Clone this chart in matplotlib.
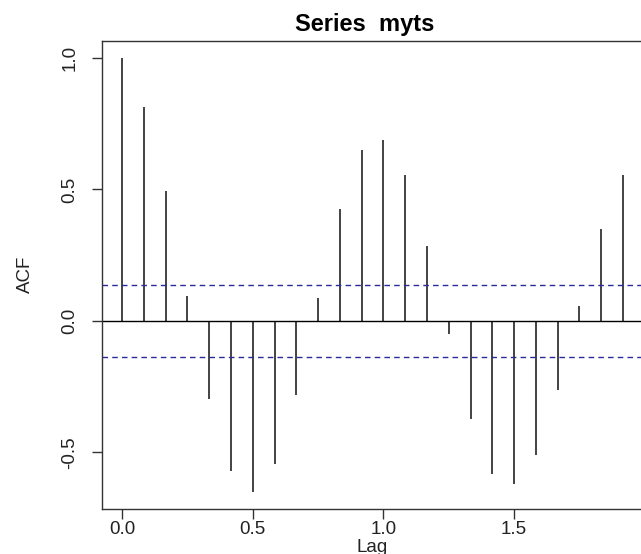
import matplotlib
matplotlib.use("Agg")
import matplotlib.pyplot as plt

plt.rcParams['font.family'] = ['Liberation Sans', 'DejaVu Sans']

# --- Daten (ACF von myts, Monatsdaten) ---
lags = [0.0, 0.0833, 0.1667, 0.25, 0.3333, 0.4167, 0.5, 0.5833,
        0.6667, 0.75, 0.8333, 0.9167, 1.0, 1.0833, 1.1667, 1.25,
        1.3333, 1.4167, 1.5, 1.5833, 1.6667, 1.75, 1.8333, 1.9167]
acf_vals = [1.0, 0.813, 0.492, 0.096, -0.295, -0.569, -0.649, -0.545,
            -0.281, 0.086, 0.427, 0.648, 0.689, 0.553, 0.284, -0.049,
            -0.371, -0.583, -0.620, -0.508, -0.261, 0.058, 0.351, 0.553]
ci = 0.137
xticks = [0.0, 0.5, 1.0, 1.5]
yticks = [-0.5, 0.0, 0.5, 1.0]

fig = plt.figure(figsize=(6.41, 5.54), dpi=100)
ax = fig.add_axes([102/641, 1 - 509/554, 541/641, 468.5/554])

ax.vlines(lags, 0, acf_vals, color="#222222", lw=1.2)
ax.axhline(0, color="black", lw=1.0)
ax.axhline(ci, color="#2a2a9a", lw=1.0, ls=(0, (4, 3)))
ax.axhline(-ci, color="#2a2a9a", lw=1.0, ls=(0, (4, 3)))

ax.set_xlim(-0.0767, 1.993)
ax.set_ylim(-0.715, 1.066)
ax.set_xticks(xticks)
ax.set_yticks(yticks)
ax.set_xticklabels([f"{v:.1f}" for v in xticks])
ax.set_yticklabels([f"{v:.1f}" for v in yticks], rotation=90, va="center")

for s in ax.spines.values():
    s.set_color("#333333")
    s.set_linewidth(1.0)

ax.tick_params(axis="both", length=7, width=1.0, color="#333333",
               labelsize=13.5, labelcolor="#222222")
ax.tick_params(axis="x", pad=2)
ax.tick_params(axis="y", pad=10)

ax.set_xlabel("Lag", fontsize=13.5, labelpad=0, color="#222222")
ax.set_ylabel("ACF", fontsize=13.5, labelpad=20, color="#222222")
ax.set_title("Series  myts", fontsize=17, fontweight="bold", pad=7, x=0.485)

fig.savefig("out.png", dpi=100)
